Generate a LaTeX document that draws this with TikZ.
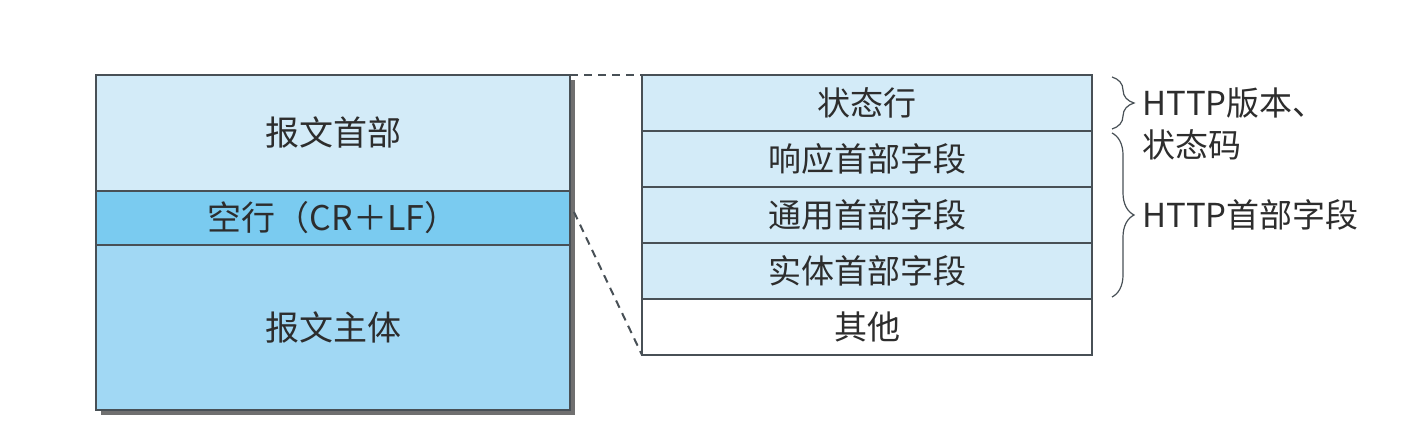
\documentclass[tikz,border=0pt]{standalone}
\usepackage{fontspec}
\setmainfont{Noto Sans CJK SC}
\usetikzlibrary{positioning,decorations.pathreplacing}

\definecolor{hdrblue}{RGB}{211,235,248}
\definecolor{crlfblue}{RGB}{122,203,240}
\definecolor{bodyblue}{RGB}{161,216,244}
\definecolor{framegray}{RGB}{72,80,86}
\definecolor{shadowgray}{RGB}{112,112,112}
\definecolor{inkgray}{RGB}{45,45,45}

\tikzset{
	part/.style={draw=framegray, line width=1pt, minimum width=237pt, inner sep=0pt, outer sep=0pt, text=inkgray, font=\fontsize{17}{19}\selectfont},
	field/.style={draw=framegray, line width=1pt, fill=hdrblue, minimum width=225pt, minimum height=28pt, inner sep=0pt, outer sep=0pt, text=inkgray, font=\fontsize{16.5}{18}\selectfont},
	link/.style={draw=framegray, line width=1pt, dash pattern=on 4pt off 3pt},
	grp/.style={decorate, decoration={brace, amplitude=11pt}, draw=framegray, line width=0.6pt},
	lbl/.style={inner sep=0pt, text=inkgray, font=\fontsize{16.5}{18}\selectfont}
}

\begin{document}
\begin{tikzpicture}[x=0.5pt, y=-0.5pt]
	\useasboundingbox (0,0) rectangle (1428,442);

	% message: shadow, then the three parts
	\fill[shadowgray] (101,80) rectangle (575,415);
	\node[part, fill=hdrblue, minimum height=58pt, anchor=north west] (head) at (96,75) {报文首部};
	\node[part, fill=crlfblue, minimum height=27pt, below=0pt of head] (crlf) {空行（CR＋LF）};
	\node[part, fill=bodyblue, minimum height=82.5pt, below=0pt of crlf] (body) {报文主体};

	% header fields
	\node[field, anchor=north west] (status) at (642,75) {状态行};
	\node[field, below=0pt of status] (resp) {响应首部字段};
	\node[field, below=0pt of resp] (general) {通用首部字段};
	\node[field, below=0pt of general] (entity) {实体首部字段};
	\node[field, fill=white, below=0pt of entity] (other) {其他};

	\draw[link] (head.north east) -- (status.north west);
	\draw[link] ([xshift=2pt,yshift=3pt]crlf.east) -- (other.south west);

	% braces
	\draw[grp] ([xshift=10pt,yshift=-1pt]status.north east) -- ([xshift=10pt,yshift=1pt]status.south east)
		coordinate[midway, xshift=11pt] (vtip);
	\draw[grp] ([xshift=10pt,yshift=-1pt]resp.north east) -- ([xshift=10pt,yshift=1pt]entity.south east)
		coordinate[midway, xshift=11pt] (htip);

	\node[lbl, right=4pt of vtip] (ver) {HTTP版本、};
	\node[lbl, anchor=west] (code) at ([yshift=-21pt]ver.west) {状态码};
	\node[lbl, right=4pt of htip] (hdr) {HTTP首部字段};
\end{tikzpicture}
\end{document}
